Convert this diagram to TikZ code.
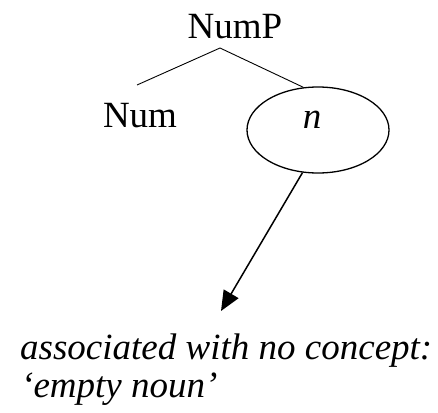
\documentclass[tikz,border=0pt]{standalone}
\usepackage{fontspec}
\setmainfont{Liberation Serif}
\usetikzlibrary{shapes.geometric,arrows.meta}
\tikzset{
  lbl/.style={inner sep=0pt, anchor=base, font=\fontsize{37}{40}\selectfont},
  ital/.style={inner sep=0pt, anchor=base west, font=\fontsize{37}{40}\selectfont\itshape},
  branch/.style={line width=0.9pt},
  arr/.style={line width=1.5pt, -{Triangle[length=20pt,width=17pt]}}
}
\begin{document}
\begin{tikzpicture}[x=1pt,y=1pt]
\useasboundingbox (0,0) rectangle (438,-412);
\node[lbl] (nump) at (235,-38) {NumP};
\node[lbl] (num) at (140,-127) {Num};
\node[draw, ellipse, line width=1.3pt, minimum width=142pt, minimum height=86pt, inner sep=0pt] (ell) at (318,-130) {};
\node[lbl, font=\fontsize{37}{40}\selectfont\itshape] (n) at (312,-128) {n};
\coordinate (apex) at (220,-48);
\coordinate (lend) at (137,-85);
\coordinate (tip) at (221,-311);
\draw[branch] (lend) -- (apex) -- (ell.109);
\draw[arr] (ell.250) -- (tip);
\node[ital] (t1) at (20,-359) {associated with no concept:};
\node[ital] (t2) at (21,-397) {‘empty noun’};
\end{tikzpicture}
\end{document}
